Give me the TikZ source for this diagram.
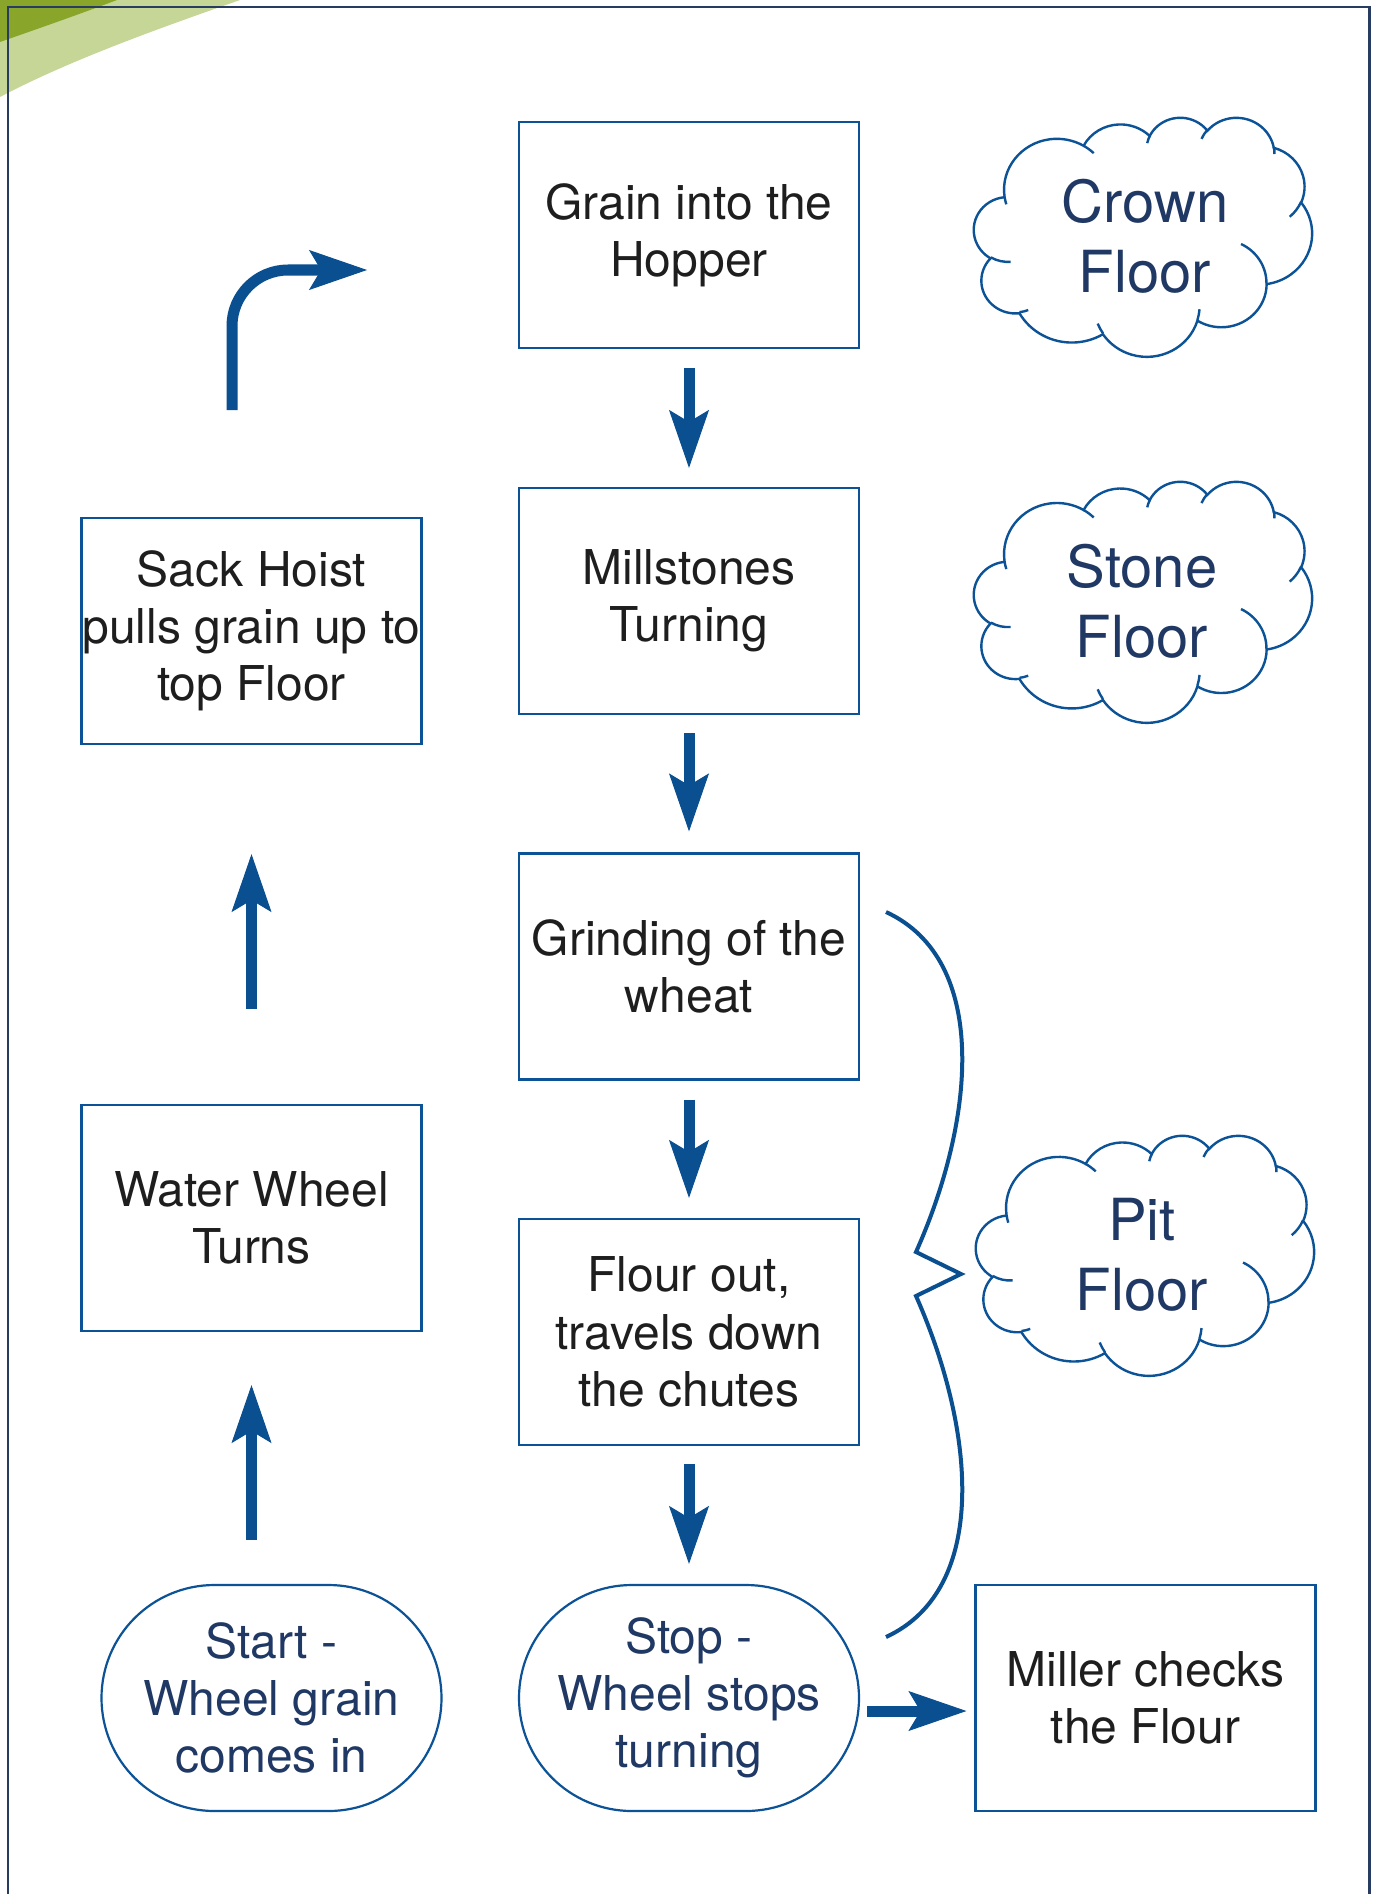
\documentclass[tikz,border=0pt]{standalone}
\usepackage{fontspec}
\setmainfont{TeX Gyre Heros}
\usetikzlibrary{arrows.meta,calc}
\definecolor{lineblue}{RGB}{12,82,150}
\definecolor{arrowblue}{RGB}{10,79,143}
\definecolor{navytext}{RGB}{31,56,100}
\definecolor{boxtext}{RGB}{30,30,30}
\definecolor{framecol}{RGB}{40,60,98}
\definecolor{darkgreen}{RGB}{138,166,42}
\definecolor{lightgreen}{RGB}{197,214,150}

\tikzset{
  procbox/.style={draw=lineblue, line width=1.1pt, rectangle, minimum width=170pt, minimum height=113pt, inner sep=0pt, align=center, text=boxtext, font=\fontsize{24}{28.6}\selectfont},
  termbox/.style={procbox, rounded corners=56.5pt, text=navytext},
  cloudtext/.style={align=center, text=navytext, font=\fontsize{29}{35}\selectfont, inner sep=0pt},
  cloudline/.style={draw=lineblue, line width=1.2pt},
  bigarrow/.style={draw=arrowblue, line width=5.5pt, -{Stealth[length=29pt,width=20pt,inset=6pt,line width=0.5pt]}},
  bracestyle/.style={draw=arrowblue, line width=2pt},
  framestyle/.style={draw=framecol, line width=1.2pt},
  vis/.code n args={4}{%
    \pgfmathsetmacro\visA{-(#3)}%
    \pgfmathsetmacro\visS{-(#4)}%
    \pgfmathsetmacro\tA{atan2((#1)*sin(\visA),(#2)*cos(\visA))}%
    \pgfmathsetmacro\tB{atan2((#1)*sin(\visA+\visS),(#2)*cos(\visA+\visS))}%
    \pgfmathsetmacro\dT{\tB-\tA+360*round((\visS-\tB+\tA)/360)}%
    \pgfkeysalso{start angle=\tA, delta angle=\dT, x radius=#1*\cw pt, y radius=#2*\ch pt}%
  }
}

\newcommand\pptcloud[4]{%
\begin{scope}[shift={(#1,#2)}]
\pgfmathsetmacro\cw{#3*0.5/432}%
\pgfmathsetmacro\ch{#4*0.5/432}%
\draw[cloudline, fill=white] (39.00*\cw pt,-143.70*\ch pt)
 arc[vis={67.53}{91.90}{-190.4875}{123.7805}]
 arc[vis={53.33}{72.67}{-144.1024}{89.9452}]
 arc[vis={43.65}{59.45}{-145.8079}{99.7230}]
 arc[vis={48.57}{65.95}{-130.9861}{117.2417}]
 arc[vis={53.33}{72.73}{-78.7089}{109.0269}]
 arc[vis={67.75}{92.20}{-46.2673}{130.2690}]
 arc[vis={57.85}{78.67}{0.6250}{114.0333}]
 arc[vis={67.52}{92.15}{22.4516}{115.1726}]
 arc[vis={77.20}{105.43}{66.2426}{75.7110}]
 arc[vis={43.60}{59.18}{-274.9421}{146.7356}]
 arc[vis={43.45}{59.45}{-246.8285}{152.5189}]
 -- cycle;
\draw[cloudline]
 (46.93*\cw pt,-261.77*\ch pt) arc[vis={43.45}{59.45}{86.7420}{26.4295}]
 (69.28*\cw pt,-348.99*\ch pt) arc[vis={43.60}{59.18}{73.6105}{11.4475}]
 (164.78*\cw pt,-390.90*\ch pt) arc[vis={67.52}{92.15}{137.6242}{14.0811}]
 (288.27*\cw pt,-347.51*\ch pt) arc[vis={67.52}{92.15}{6.4533}{15.9984}]
 (341.29*\cw pt,-229.54*\ch pt) arc[vis={57.85}{78.67}{-70.2924}{70.9174}]
 (417.98*\cw pt,-153.54*\ch pt) arc[vis={53.33}{72.73}{30.3180}{27.7515}]
 (383.24*\cw pt,-54.26*\ch pt) arc[vis={48.57}{65.95}{-13.7443}{14.8589}]
 (290.78*\cw pt,-39.52*\ch pt) arc[vis={48.57}{65.95}{-149.1815}{18.1954}]
 (221.41*\cw pt,-47.20*\ch pt) arc[vis={43.65}{59.45}{-163.4943}{17.6864}]
 (140.00*\cw pt,-51.92*\ch pt) arc[vis={67.53}{91.90}{-66.7070}{12.3194}]
 (41.27*\cw pt,-157.89*\ch pt) arc[vis={67.53}{91.90}{157.6544}{11.8582}];
\end{scope}}

\begin{document}
\begin{tikzpicture}[x=0.5pt, y=-0.5pt]
\useasboundingbox (0,0) rectangle (1383,1894);
\fill[white] (0,0) rectangle (1383,1894);

% green corner decoration
\fill[lightgreen] (0,0) -- (240,0) .. controls (160,28) and (70,60) .. (0,97) -- cycle;
\fill[darkgreen] (0,0) -- (117,0) .. controls (80,14) and (40,28) .. (0,42) -- cycle;

% frame
\draw[framestyle] (8,1894) -- (8,7) -- (1369.5,7) -- (1369.5,1894);

% process boxes
\node[procbox] (hopper) at (689,235) {Grain into the\\Hopper};
\node[procbox] (mill) at (689,601) {Millstones\\Turning};
\node[procbox] (grind) at (689,966.5) {Grinding of the\\wheat};
\node[procbox] (flour) at (689,1332) {Flour out,\\travels down\\the chutes};
\node[termbox] (stop) at (689,1698) {Stop -\\Wheel stops\\turning};
\node[termbox] (start) at (271.5,1698) {Start -\\Wheel grain\\comes in};
\node[procbox] (water) at (251.5,1218) {Water Wheel\\Turns};
\node[procbox] (sack) at (251.5,631) {Sack Hoist\\pulls grain up to\\top Floor};
\node[procbox] (miller) at (1145.5,1698) {Miller checks\\the Flour};

% clouds
\pptcloud{974}{117}{338}{239}
\node[cloudtext] (crown) at (1145,236) {Crown\\Floor};
\pptcloud{974}{481}{338}{241}
\node[cloudtext] (stone) at (1142,601) {Stone\\Floor};
\pptcloud{976}{1135}{338}{240}
\node[cloudtext] (pit) at (1142,1255) {Pit\\Floor};

% down arrows
\draw[bigarrow, shorten <=9.5pt, shorten >=9.5pt] (hopper) -- (mill);
\draw[bigarrow, shorten <=9pt, shorten >=10.5pt] (mill) -- (grind);
\draw[bigarrow, shorten <=9.5pt, shorten >=10pt] (grind) -- (flour);
\draw[bigarrow, shorten <=9pt, shorten >=10pt] (flour) -- (stop);

% up arrows
\draw[bigarrow, shorten <=22pt, shorten >=26.5pt] (water.south |- start.north) -- (water.south);
\draw[bigarrow, shorten <=47.5pt, shorten >=54.5pt] (water.north) -- (sack.south);

% right arrow
\draw[bigarrow, shorten <=3.5pt, shorten >=4pt] ([yshift=-6.5pt]stop.east) -- ([yshift=-6.5pt]miller.west);

% bent arrow
\coordinate (b1) at (232,410);
\coordinate (b2) at (232,270);
\coordinate (b3) at (367,270);
\draw[bigarrow, rounded corners=28pt] (b1) -- (b2) -- (b3);

% brace
\coordinate (br1) at (886,912);
\coordinate (br2) at (916,1252);
\coordinate (br3) at (961,1274);
\coordinate (br4) at (916,1296);
\coordinate (br5) at (886,1637);
\draw[bracestyle, line join=miter] (br1) .. controls (990,960) and (975,1120) .. (br2) -- (br3) -- (br4) .. controls (975,1429) and (990,1589) .. (br5);
\end{tikzpicture}
\end{document}
